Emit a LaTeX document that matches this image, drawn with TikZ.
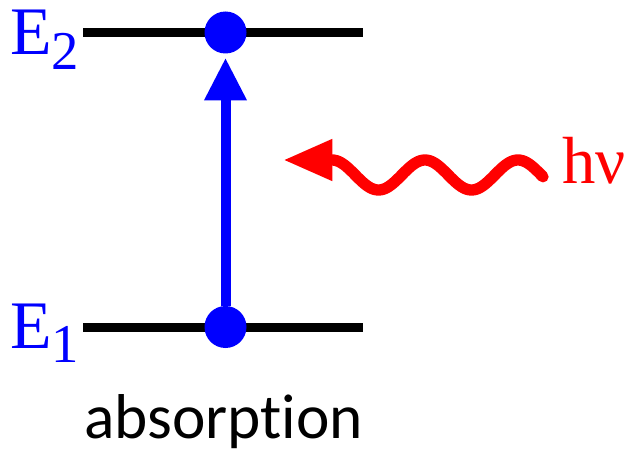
\documentclass[tikz,border=0pt]{standalone}
\usepackage{fontspec}
\setmainfont{Liberation Serif}
\newfontfamily\calib[Ligatures=NoCommon]{Carlito}
\usetikzlibrary{arrows.meta}
\definecolor{pblue}{RGB}{0,0,255}
\definecolor{pred}{RGB}{255,0,0}
\begin{document}
\begin{tikzpicture}[x=0.75pt,y=-0.75pt,
 level/.style={line width=6.75pt, black},
 dot/.style={circle, fill=pblue, minimum size=31.5pt, inner sep=0pt},
 trans/.style={pblue, line width=7.5pt, shorten >=3pt, -{Triangle[length=32pt,width=30pt]}},
 photon/.style={pred, line width=8.5pt, line cap=round, -{Triangle[length=37pt,width=29pt]}},
 lbl/.style={inner sep=0pt, anchor=base west}]
\useasboundingbox (0,0) rectangle (629,453);
\coordinate (t1) at (83,32.5); \coordinate (t2) at (363,32.5);
\coordinate (b1) at (83,327); \coordinate (b2) at (363,327);
\draw[level] (t1) -- (t2);
\draw[level] (b1) -- (b2);
\node[dot] (d2) at (225.5,32.5) {};
\node[dot] (d1) at (225.5,327) {};
\draw[trans] (d1) -- (d2);
\coordinate (tip) at (283,160);
\draw[photon] plot[domain=0:211, samples=120] ({543-\x}, {175-15*cos(3.871*(211-\x))}) -- (tip);
\node[lbl, pblue] (E2) at (10,55) {\fontsize{51}{51}\selectfont E\raisebox{-11.25pt}{\fontsize{41}{41}\selectfont 2}};
\node[lbl, pblue] (E1) at (10,348) {\fontsize{51}{51}\selectfont E\raisebox{-10.5pt}{\fontsize{41}{41}\selectfont 1}};
\node[lbl, pred] (hv) at (562,183) {\fontsize{50}{50}\selectfont hν};
\node[inner sep=0pt, anchor=base] (abs) at (223.5,438) {\calib\fontsize{47.5}{47.5}\selectfont absorption};
\end{tikzpicture}
\end{document}
